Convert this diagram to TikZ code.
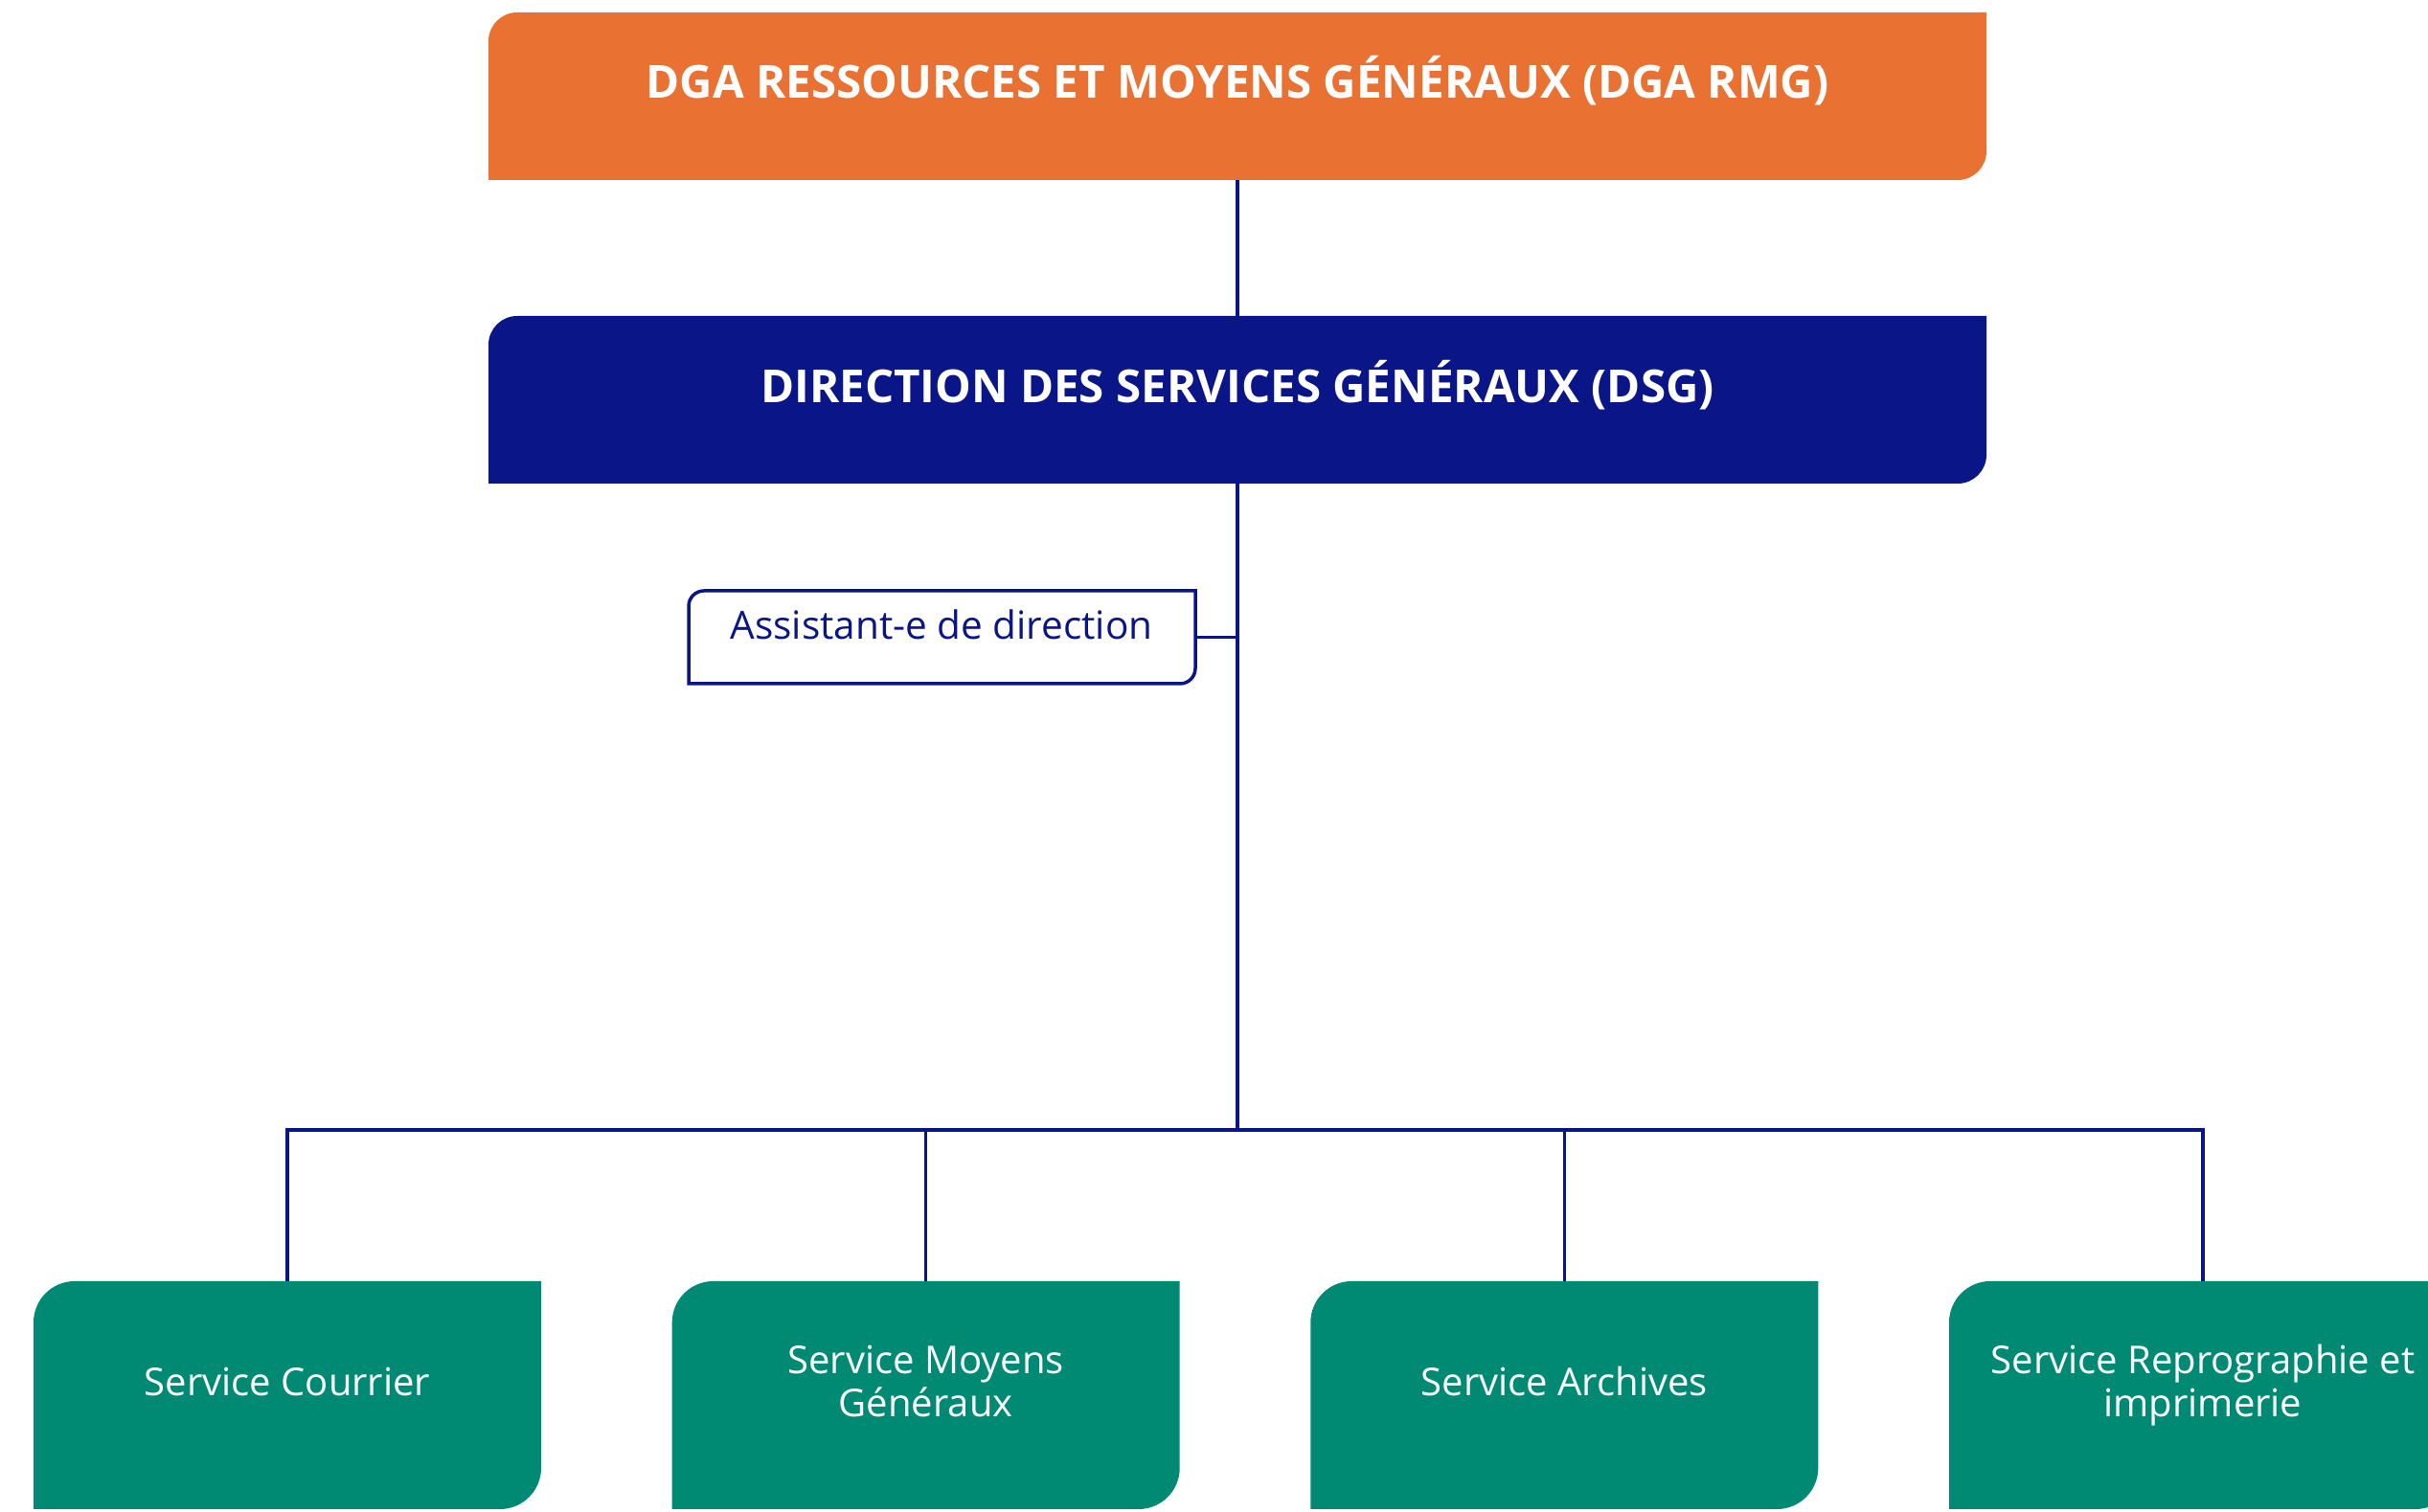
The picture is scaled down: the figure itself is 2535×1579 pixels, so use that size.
\documentclass[tikz,border=0pt]{standalone}
\usepackage{fontspec}
\setmainfont{Open Sans}
\usetikzlibrary{backgrounds}
\definecolor{orgC}{RGB}{233,113,50}
\definecolor{navyC}{RGB}{10,22,136}
\definecolor{tealC}{RGB}{0,138,116}
\newcommand\tlbrshape[3]{%
  \path[#2] (#1.south west) -- ([yshift=-#3]#1.north west)
    arc[start angle=180,end angle=90,radius=#3] -- (#1.north east)
    -- ([yshift=#3]#1.south east)
    arc[start angle=0,end angle=-90,radius=#3] -- cycle;}
\begin{document}
\begin{tikzpicture}[x=1pt,y=1pt,
  frame/.style={rectangle, inner sep=0pt, outer sep=0pt},
  headbox/.style={frame, minimum width=1564pt, minimum height=175pt},
  svcbox/.style={frame, minimum width=530pt, minimum height=238pt},
  headtxt/.style={anchor=base, inner sep=0pt, text=white, font=\fontsize{47.5}{52}\selectfont\bfseries},
  svctxt/.style={anchor=base, inner sep=0pt, text=white, align=center, font=\fontsize{40}{45}\selectfont},
  link/.style={draw=navyC, line width=3.2pt}]
\useasboundingbox (0,0) rectangle (2535,1579);
\clip (0,0) rectangle (2535,1579);
% boxes
\node[headbox] (dga) at (1292,1478.5) {};
\node[headtxt] (dgat) at (1292,1476) {DGA RESSOURCES ET MOYENS GÉNÉRAUX (DGA RMG)};
\node[headbox] (dsg) at (1292,1161.5) {};
\node[headtxt] (dsgt) at (1292,1158) {DIRECTION DES SERVICES GÉNÉRAUX (DSG)};
\node[frame, minimum width=529pt, minimum height=97pt] (asst) at (983.5,913.5) {};
\node[anchor=base, inner sep=0pt, text=navyC, font=\fontsize{40.5}{48}\selectfont] (asstt) at (983,911) {Assistant-e de direction};
\coordinate (bar) at (1292,399);
\node[svcbox] (c1) at (300,122) {};
\node[svcbox] (c2) at (966.7,122) {};
\node[svcbox] (c3) at (1633.3,122) {};
\node[svcbox] (c4) at (2300,122) {};
\node[svctxt] (t1) at (300,121) {Service Courrier};
\node[svctxt] (t2) at (966.7,99) {Service Moyens\\Généraux};
\node[svctxt] (t3) at (1633.3,121) {Service Archives};
\node[svctxt] (t4) at (2300,99) {Service Reprographie et\\imprimerie};
\begin{scope}[on background layer]
\fill[white] (0,0) rectangle (2535,1579);
\tlbrshape{dga}{fill=orgC}{30pt}
\tlbrshape{dsg}{fill=navyC}{30pt}
\tlbrshape{c1}{fill=tealC}{43pt}
\tlbrshape{c2}{fill=tealC}{43pt}
\tlbrshape{c3}{fill=tealC}{43pt}
\tlbrshape{c4}{fill=tealC}{43pt}
\end{scope}
\tlbrshape{asst}{draw=navyC, line width=3.5pt}{16pt}
% connectors
\draw[link] (dga.south) -- (dsg.north);
\draw[link] (dsg.south) -- (bar);
\draw[link] (asst.east) -- (asst.east -| dsg.south);
\draw[link, line width=3.6pt, line cap=rect] (c1.north |- bar) -- (c4.north |- bar);
\foreach \c in {c1,c2,c3,c4} \draw[link] (\c.north) -- (\c.north |- bar);
\end{tikzpicture}
\end{document}
